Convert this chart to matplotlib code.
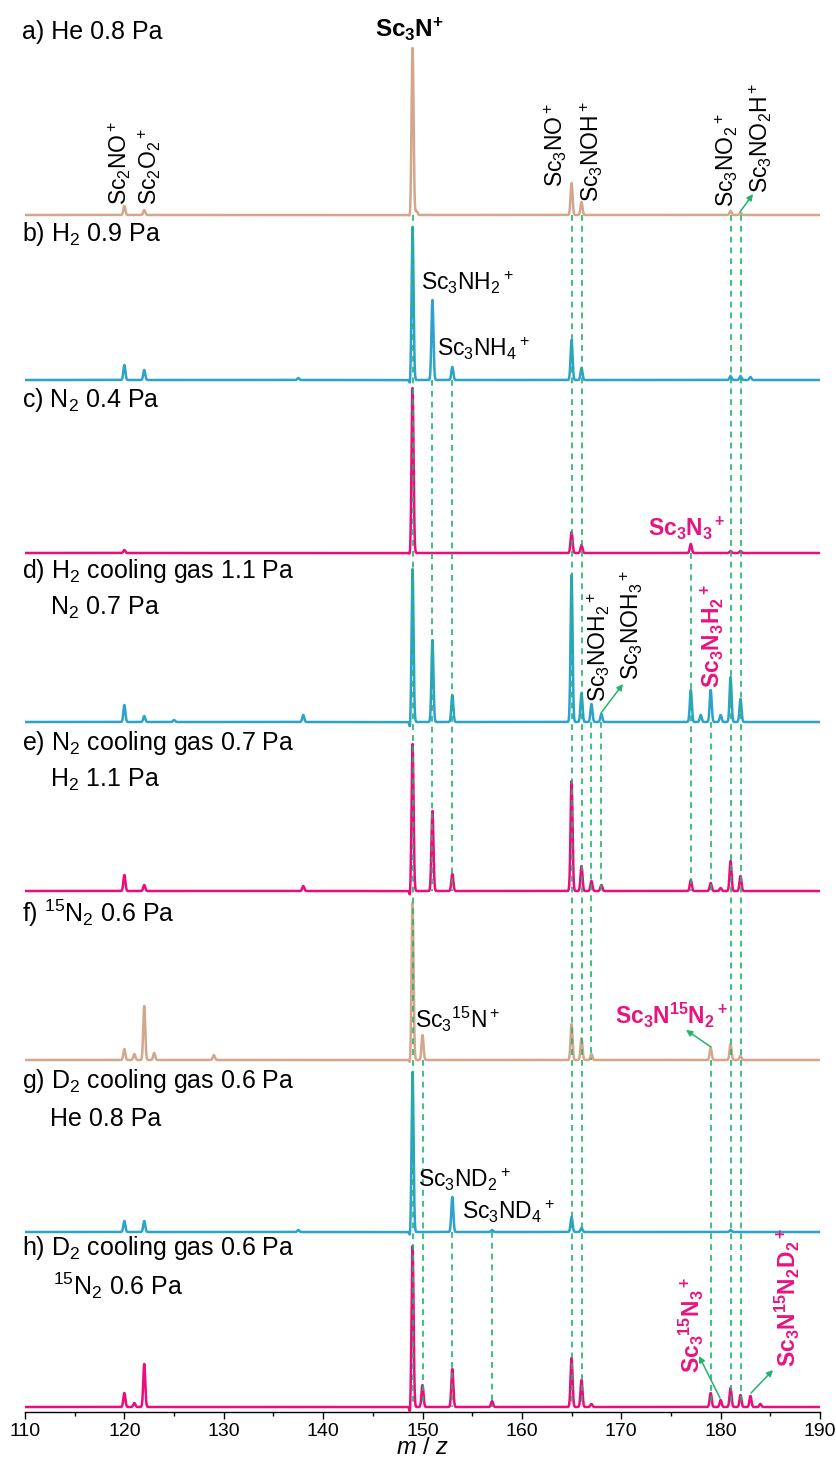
import numpy as np
import matplotlib
matplotlib.use('Agg')
import matplotlib.pyplot as plt
from matplotlib.ticker import MultipleLocator

plt.rcParams['font.family'] = ['Liberation Sans', 'DejaVu Sans']
plt.rcParams['mathtext.fontset'] = 'custom'
plt.rcParams['mathtext.rm'] = 'Liberation Sans'
plt.rcParams['mathtext.it'] = 'Liberation Sans:italic'
plt.rcParams['mathtext.bf'] = 'Liberation Sans:bold'
plt.rcParams['mathtext.default'] = 'regular'

# ---------------- data (peak m/z and intensities, a.u.) ----------------
a_mz  = [120, 122, 148.75, 149, 149.4, 165, 166, 181, 182]
a_int = [9, 5, -3, 167, 4, 32, 13, 4, 2]

b_mz  = [120, 122, 137.5, 148.75, 149, 151, 153, 165, 166, 181, 182, 183]
b_int = [15, 10, 2, -6, 153, 80, 13, 40, 12, 4, 4, 3]

c_mz  = [120, 148.75, 149, 165, 166, 177, 181, 182]
c_int = [3, -3, 165, 21, 8, 9, 2, 2]

d_mz  = [120, 122, 125, 138, 148.75, 149, 151, 153, 165, 166, 167, 168,
         177, 178, 179, 180, 181, 182]
d_int = [17, 6, 2, 7, -8, 153, 82, 27, 147, 29, 18, 8, 32, 7, 32, 7, 45, 23]

e_mz  = [120, 122, 138, 148.75, 149, 151, 153, 165, 166, 167, 168,
         177, 179, 180, 181, 182]
e_int = [16, 6, 5, -7, 147, 80, 17, 110, 25, 10, 6, 11, 8, 3, 30, 15]

f_mz  = [120, 121, 122, 123, 129, 148.75, 149, 150, 165, 166, 167, 179, 181, 182]
f_int = [11, 6, 54, 7, 5, -5, 157, 25, 36, 22, 6, 12, 16, 4]

g_mz  = [120, 122, 137.5, 148.75, 149, 153, 157, 165, 166, 181]
g_int = [11, 11, 2, -6, 160, 35, 2, 15, 4, 2]

h_mz  = [120, 121, 122, 148.75, 149, 150, 153, 157, 165, 166, 167,
         179, 180, 181, 182, 183, 184]
h_int = [14, 4, 43, -8, 161, 22, 38, 6, 49, 27, 3, 14, 7, 19, 12, 11, 3]

spectra = [(a_mz, a_int), (b_mz, b_int), (c_mz, c_int), (d_mz, d_int),
           (e_mz, e_int), (f_mz, f_int), (g_mz, g_int), (h_mz, h_int)]

panel_titles = ['a) He 0.8 Pa', 'b) H$_2$ 0.9 Pa', 'c) N$_2$ 0.4 Pa',
                'd) H$_2$ cooling gas 1.1 Pa', 'e) N$_2$ cooling gas 0.7 Pa',
                'f) $^{15}$N$_2$ 0.6 Pa', 'g) D$_2$ cooling gas 0.6 Pa',
                'h) D$_2$ cooling gas 0.6 Pa']
panel_sub = [None, None, None, 'N$_2$ 0.7 Pa', 'H$_2$ 1.1 Pa', None,
             'He 0.8 Pa', '$^{15}$N$_2$ 0.6 Pa']

# guide lines: (m/z, first spectrum index, last spectrum index)
guide_mz    = [149, 150, 151, 153, 153, 157, 165, 166, 167, 168, 177, 179, 179, 181, 182]
guide_start = [0,   5,   1,   1,   6,   6,   0,   0,   3,   3,   2,   3,   5,   0,   0]
guide_end   = [7,   7,   4,   4,   7,   7,   7,   7,   5,   4,   4,   4,   7,   7,   7]

xticks = [110, 120, 130, 140, 150, 160, 170, 180, 190]

# ---------------- style / layout ----------------
TAN = '#D4A78D'
BLUE = '#2BA3CC'
PINK = '#EC0C7E'
GREEN = '#22B46C'
LPINK = '#E8147F'
colors = [TAN, BLUE, PINK, BLUE, PINK, TAN, BLUE, PINK]
H = 1412.0
baseline_px = [215, 380, 553, 722, 891, 1060, 1232, 1407]
offsets = [H - p for p in baseline_px]

fig = plt.figure(figsize=(8.37, 14.58), dpi=100)
ax = fig.add_axes([25 / 837, 46 / 1458, 795 / 837, H / 1458])
ax.set_xlim(110, 190)
ax.set_ylim(0, H)

x = np.arange(110, 190.0001, 0.02)
sigma = 0.1
for (mz, it), off, col in zip(spectra, offsets, colors):
    y = np.zeros_like(x)
    for m, h in zip(mz, it):
        w = sigma * (0.6 if h < 0 else 1.0)
        y += h * np.exp(-0.5 * ((x - m) / w) ** 2)
    ax.plot(x, y + off, color=col, lw=1.8, zorder=2, solid_joinstyle='round')

for m, s, e in zip(guide_mz, guide_start, guide_end):
    ax.plot([m, m], [offsets[s], offsets[e]], color=GREEN, lw=1.2,
            ls=(0, (3.5, 3)), zorder=3)

def px(xp):
    return 110 + (xp - 25) / 9.9375

def py(yp):
    return H - yp

FS_T = 18
FS_A = 16.5
title_base = [39, 241, 407, 578, 750, 922, 1088, 1255]
sub_base = [None, None, None, 615, 787, None, 1126, 1295]
for i, t in enumerate(panel_titles):
    ax.text(px(22), py(title_base[i]), t, fontsize=FS_T, ha='left', va='baseline', clip_on=False)
    if panel_sub[i]:
        ax.text(px(50 if i != 7 else 53), py(sub_base[i]), panel_sub[i], fontsize=FS_T,
                ha='left', va='baseline', clip_on=False)

# horizontal annotations
ax.text(px(409), py(37), r'Sc$_3$N$^{+}$', fontsize=17.5, fontweight='bold', ha='center', va='baseline')
ax.text(px(421), py(290), r'Sc$_3$NH$_2$$^+$', fontsize=FS_A, ha='left', va='baseline')
ax.text(px(437), py(356), r'Sc$_3$NH$_4$$^+$', fontsize=FS_A, ha='left', va='baseline')
ax.text(px(648), py(536), r'Sc$_3$N$_3$$^+$', fontsize=FS_A, fontweight='bold', color=LPINK, ha='left', va='baseline')
ax.text(px(415), py(1028), r'Sc$_3$$^{15}$N$^+$', fontsize=FS_A, ha='left', va='baseline')
ax.text(px(615), py(1024), r'Sc$_3$N$^{15}$N$_2$$^+$', fontsize=FS_A, fontweight='bold', color=LPINK, ha='left', va='baseline')
ax.text(px(418), py(1187), r'Sc$_3$ND$_2$$^+$', fontsize=FS_A, ha='left', va='baseline')
ax.text(px(462), py(1219), r'Sc$_3$ND$_4$$^+$', fontsize=FS_A, ha='left', va='baseline')

# rotated annotations
rot = [
    (120, 205, r'Sc$_2$NO$^+$', 'k', 'normal'),
    (150, 205, r'Sc$_2$O$_2$$^+$', 'k', 'normal'),
    (556, 187, r'Sc$_3$NO$^+$', 'k', 'normal'),
    (592, 202, r'Sc$_3$NOH$^+$', 'k', 'normal'),
    (727, 207, r'Sc$_3$NO$_2$$^+$', 'k', 'normal'),
    (761, 193, r'Sc$_3$NO$_2$H$^+$', 'k', 'normal'),
    (599, 702, r'Sc$_3$NOH$_2$$^+$', 'k', 'normal'),
    (632, 680, r'Sc$_3$NOH$_3$$^+$', 'k', 'normal'),
    (712, 688, r'Sc$_3$N$_3$H$_2$$^+$', LPINK, 'bold'),
    (691, 1373, r'Sc$_3$$^{15}$N$_3$$^+$', LPINK, 'bold'),
    (787, 1367, r'Sc$_3$N$^{15}$N$_2$D$_2$$^+$', LPINK, 'bold'),
]
for xp, yp, t, c, wgt in rot:
    ax.text(px(xp), py(yp), t, fontsize=FS_A, rotation=90, ha='center', va='bottom',
            color=c, fontweight=wgt)

arrows = [((740, 212), (753, 194)), ((601, 713), (623, 684)), ((711, 1047), (686, 1030)),
          ((720, 1398), (699, 1356)), ((751, 1393), (773, 1370))]
for (x0, y0), (x1, y1) in arrows:
    ax.annotate('', xy=(px(x1), py(y1)), xytext=(px(x0), py(y0)),
                arrowprops=dict(arrowstyle='-|>', color=GREEN, lw=1.1, mutation_scale=9,
                                shrinkA=0, shrinkB=0))

for sp in ['left', 'right', 'top']:
    ax.spines[sp].set_visible(False)
ax.spines['bottom'].set_linewidth(1.0)
ax.set_yticks([])
ax.set_xticks(xticks)
ax.xaxis.set_minor_locator(MultipleLocator(5))
ax.tick_params(axis='x', which='major', direction='out', length=5, width=1, labelsize=14, pad=3)
ax.tick_params(axis='x', which='minor', direction='out', length=3, width=1)
ax.set_xlabel('$\\it{m}$ / $\\it{z}$', fontsize=17, labelpad=-2)

fig.savefig('out.png', dpi=100)
